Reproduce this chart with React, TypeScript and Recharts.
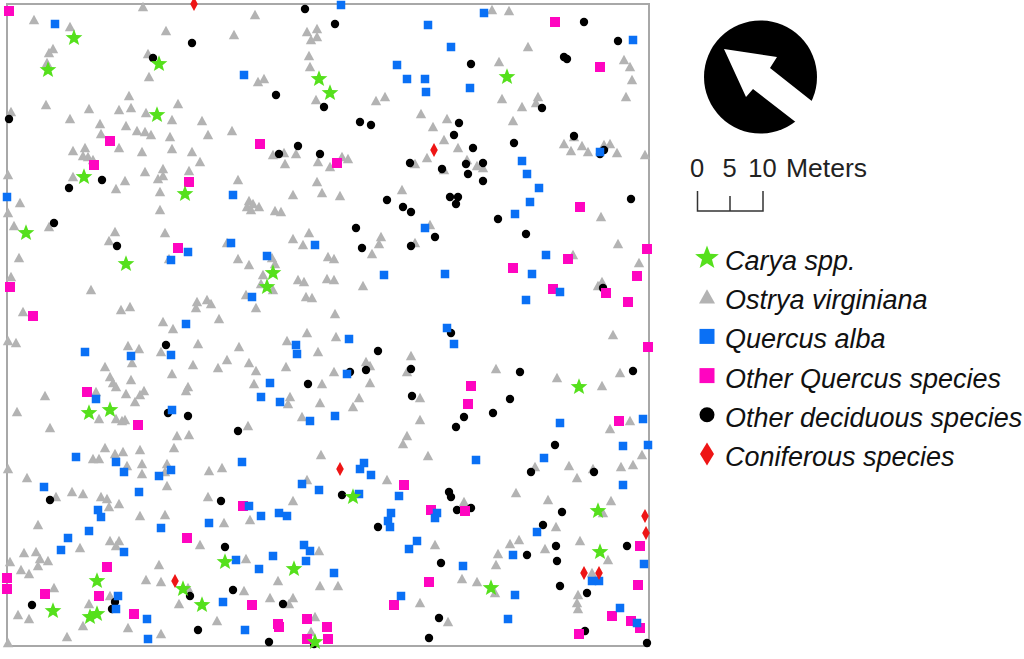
import { ScatterChart, Scatter, XAxis, YAxis, ReferenceArea } from 'recharts'

// tree positions, in map units
const carya = [[74,38],[48,70],[159,64],[157,115],[84,177],[185,194],[319,79],[330,93],[507,77],[26,233],[126,264],[110,410],[89,413],[273,273],[267,287],[579,387],[225,562],[294,569],[353,497],[315,642],[97,581],[183,589],[53,611],[202,605],[97,614],[90,617],[598,511],[600,552],[491,588]]

const ostrya = [[143,7],[34,20],[70,27],[166,31],[53,49],[49,53],[148,54],[47,63],[149,77],[129,96],[178,104],[11,112],[46,105],[89,109],[119,110],[131,108],[146,113],[70,119],[172,120],[202,121],[100,124],[126,126],[137,131],[145,132],[151,135],[101,134],[170,137],[208,135],[73,151],[85,148],[119,148],[142,152],[172,149],[192,152],[83,156],[88,157],[93,160],[200,162],[163,169],[145,172],[189,171],[8,175],[73,177],[163,176],[158,179],[125,181],[116,189],[160,192],[20,203],[8,213],[160,210],
  [255,15],[234,35],[317,29],[307,32],[317,37],[311,40],[309,56],[310,67],[264,79],[258,82],[316,100],[385,97],[376,101],[421,114],[433,127],[232,131],[273,155],[284,153],[296,154],[318,162],[285,164],[342,157],[348,159],[330,167],[415,164],[427,158],[238,180],[317,182],[402,190],[322,193],[293,195],[340,196],[249,201],[247,207],[253,204],[259,207],[251,210],[275,211],[281,212],
  [492,10],[509,11],[528,47],[499,62],[624,60],[630,67],[632,80],[626,97],[502,99],[538,97],[536,103],[522,107],[513,121],[447,119],[444,140],[458,148],[564,144],[574,137],[582,146],[571,151],[588,152],[604,145],[610,144],[617,153],[645,155],[467,160],[477,166],[483,168],[444,170],[601,217],
  [14,226],[49,227],[115,232],[165,233],[109,241],[19,258],[169,259],[11,277],[91,290],[197,302],[207,300],[211,304],[196,308],[130,307],[121,310],[23,312],[163,322],[173,329],[219,319],[8,341],[16,343],[198,344],[128,346],[139,349],[161,352],[132,363],[193,365],[218,368],[105,367],[172,374],[110,377],[131,380],[113,383],[116,387],[188,387],[186,391],[96,392],[126,394],[144,391],[140,395],[135,402],[45,396],[17,412],[99,419],[116,419],[122,421],[125,420],[50,428],[177,436],[189,435],
  [309,233],[293,239],[303,245],[227,243],[238,259],[249,265],[272,258],[275,264],[263,275],[328,257],[334,259],[298,280],[304,282],[327,279],[334,280],[363,286],[261,284],[273,290],[246,295],[306,297],[312,298],[256,308],[335,314],[307,333],[336,337],[287,341],[239,347],[318,352],[227,360],[249,363],[286,367],[256,371],[334,372],[366,362],[370,366],[370,383],[411,356],[407,372],[254,384],[322,384],[290,397],[288,404],[359,398],[320,403],[353,407],[420,398],[302,417],[420,420],[248,426],[407,436],[381,237],[379,244],[372,254],[415,243],[430,225],
  [618,244],[573,255],[639,263],[602,282],[598,286],[613,335],[496,369],[557,378],[620,373],[602,386],[630,421],[610,429],
  [105,448],[115,454],[123,452],[140,450],[93,459],[99,459],[174,448],[142,464],[167,464],[127,466],[142,474],[8,469],[165,472],[209,471],[27,478],[167,486],[72,492],[83,494],[56,497],[101,497],[107,499],[119,504],[109,507],[208,497],[140,516],[165,515],[38,525],[110,541],[119,541],[116,546],[80,548],[200,545],[24,553],[36,552],[40,559],[48,561],[10,562],[38,566],[21,570],[29,574],[159,565],[146,580],[161,582],[54,588],[188,588],[110,596],[89,604],[179,604],[18,615],[29,619],[83,626],[128,628],[67,637],[161,634],[8,643],[217,621],
  [321,455],[403,444],[428,456],[222,468],[307,480],[387,480],[293,501],[250,520],[224,523],[435,545],[319,551],[246,559],[278,581],[244,591],[320,586],[338,586],[270,598],[293,598],[289,604],[420,603],[315,617],[311,632],
  [535,467],[569,466],[593,469],[621,467],[633,465],[642,455],[577,478],[516,493],[548,500],[611,501],[464,502],[603,513],[556,527],[580,541],[519,540],[510,544],[545,549],[498,554],[496,565],[608,560],[592,573],[462,579],[477,582],[495,593],[578,595],[577,603],[578,609],[448,622]]

const quercusAlba = [[55,24],[7,197],[341,5],[428,25],[397,65],[407,79],[425,79],[426,92],[244,75],[233,195],[484,13],[451,47],[633,40],[470,88],[600,152],[522,161],[527,174],[539,188],[530,202],[515,214],
  [188,252],[171,260],[186,324],[85,352],[131,356],[171,355],[96,399],[172,410],[231,243],[315,245],[267,256],[384,275],[252,297],[425,228],[349,339],[296,345],[297,354],[347,374],[270,383],[261,397],[280,402],[335,416],[310,421],
  [546,255],[445,274],[532,274],[560,292],[526,300],[447,328],[454,344],[560,423],[643,419],
  [76,457],[116,462],[124,472],[171,470],[159,476],[44,487],[139,492],[98,510],[101,517],[161,528],[209,523],[89,531],[68,538],[61,550],[124,552],[118,596],[116,609],[147,619],[148,639],
  [242,462],[364,463],[360,469],[371,475],[302,484],[319,490],[359,494],[399,496],[249,506],[261,516],[279,513],[287,516],[391,513],[388,521],[390,527],[417,541],[409,549],[437,513],[435,518],[304,545],[310,551],[306,561],[236,560],[273,556],[259,569],[334,573],[401,596],[223,602],[245,630],
  [476,460],[544,458],[623,446],[648,445],[623,485],[537,532],[513,555],[463,566],[644,564],[592,581],[599,581],[515,595],[508,619],[620,608],[637,623]]

const otherQuercus = [[9,11],[110,141],[94,165],[189,182],[260,144],[337,163],[555,22],[600,67],[580,207],[178,248],[10,287],[33,316],[87,392],[138,425],
  [647,249],[568,259],[513,268],[637,276],[553,289],[606,293],[628,302],[648,347],[471,386],[468,404],[619,421],
  [187,538],[107,567],[7,578],[7,589],[45,594],[99,596],[134,614],
  [404,485],[243,506],[431,510],[429,582],[394,605],[252,605],[307,619],[278,624],[279,627],[327,627],[307,639],[328,639],
  [465,511],[640,546],[638,585],[612,616],[631,621],[640,628],[579,634]]

const otherDeciduous = [[192,43],[153,58],[9,119],[102,180],[69,188],[54,223],[305,9],[335,24],[276,95],[324,107],[360,122],[371,125],[298,146],[279,154],[320,154],[410,163],[387,200],[403,207],[411,212],
  [584,22],[618,41],[471,64],[564,57],[567,59],[542,108],[459,123],[454,135],[473,148],[514,143],[574,136],[604,150],[600,154],[466,164],[483,163],[442,169],[468,174],[483,181],[450,197],[458,197],[456,204],[498,219],[631,199],
  [117,246],[166,345],[168,413],[188,416],[356,228],[362,248],[411,246],[435,237],[378,351],[350,372],[366,370],[411,369],[308,384],[412,396],[238,431],
  [526,234],[603,288],[451,333],[520,372],[633,371],[510,399],[493,413],[464,417],[456,427],
  [50,500],[221,501],[115,602],[32,605],[112,609],[190,596],[198,630],
  [342,495],[378,527],[225,547],[233,590],[283,604],[269,642],[314,644],
  [555,445],[531,472],[594,472],[449,492],[451,497],[457,510],[471,508],[562,512],[543,525],[556,546],[627,546],[527,555],[557,561],[441,563],[560,586],[587,593],[439,618],[585,631],[429,638],[647,643]]

const coniferous = [[194,4],[434,150],[175,581],[340,469],[645,516],[646,533],[584,573],[599,573]]

const legendLabels = ['Carya spp.', 'Ostrya virginiana', 'Quercus alba', 'Other Quercus species', 'Other deciduous species', 'Coniferous species']
const scaleLabels = ['0', '5', '10']

const GREEN = '#55e01c'
const GREY = '#b3b3b3'
const BLUE = '#0a70f5'
const PINK = '#ff05c0'
const BLACK = '#000'
const RED = '#ee1515'

const rows = (pts: number[][]) => pts.map(([x, y]) => ({ x, y }))

function starPath(cx: number, cy: number, r: number) {
  let d = ''
  for (let i = 0; i < 10; i++) {
    const rad = i % 2 === 0 ? r : r * 0.42
    const a = -Math.PI / 2 + (i * Math.PI) / 5
    d += `${i ? 'L' : 'M'}${cx + rad * Math.cos(a)},${cy + rad * Math.sin(a)}`
  }
  return d + 'Z'
}

const Star = ({ cx, cy, r = 8.8 }: any) => <path d={starPath(cx, cy, r)} fill={GREEN} />
const Tri = ({ cx, cy, r = 5.2 }: any) => (
  <path d={`M${cx},${cy - r}L${cx + r},${cy + r * 0.8}L${cx - r},${cy + r * 0.8}Z`} fill={GREY} />
)
const Sq = ({ cx, cy, color, s = 8 }: any) => <rect x={cx - s / 2} y={cy - s / 2} width={s} height={s} fill={color} />
const Dot = ({ cx, cy, r = 4.2 }: any) => <circle cx={cx} cy={cy} r={r} fill={BLACK} />
const Dia = ({ cx, cy, w = 3.8, h = 7 }: any) => (
  <path d={`M${cx},${cy - h}L${cx + w},${cy}L${cx},${cy + h}L${cx - w},${cy}Z`} fill={RED} />
)

const legendIcons = [
  (cx: number, cy: number) => <Star cx={cx} cy={cy} r={12.5} />,
  (cx: number, cy: number) => <Tri cx={cx} cy={cy} r={8} />,
  (cx: number, cy: number) => <Sq cx={cx} cy={cy} color={BLUE} s={15} />,
  (cx: number, cy: number) => <Sq cx={cx} cy={cy} color={PINK} s={15} />,
  (cx: number, cy: number) => <Dot cx={cx} cy={cy} r={7.5} />,
  (cx: number, cy: number) => <Dia cx={cx} cy={cy} w={7} h={11.5} />,
]

function Overlay() {
  const font = '"Liberation Sans", Arial, sans-serif'
  return (
    <svg width={1024} height={659} style={{ position: 'absolute', left: 0, top: 0 }} fontFamily={font}>
      <circle cx={760.5} cy={77} r={56.5} fill="#000" />
      <path d="M724,49L777,57L770,68L832,117L815,137L753,89L746,97Z" fill="#fff" />
      {scaleLabels.map((t, i) => (
        <text key={t} x={697 + i * 32.7} y={177} fontSize={25.5} textAnchor="middle" fill="#222">{t}</text>
      ))}
      <text x={786} y={177} fontSize={26.5} fill="#222">Meters</text>
      <path d="M697.5,191V211H763V191M730,196V211" fill="none" stroke="#333" strokeWidth={1.5} />
      {legendLabels.map((t, i) => {
        const base = 270 + i * 39.2
        return (
          <g key={t}>
            {legendIcons[i](707, base - 12)}
            <text x={725} y={base} fontSize={27} fontStyle="italic" fill="#111">{t}</text>
          </g>
        )
      })}
    </svg>
  )
}

export default function App() {
  return (
    <div style={{ position: 'absolute', left: 0, top: 0, width: 1024, height: 659, background: '#fff' }}>
      <ScatterChart width={1024} height={659} margin={{ top: 4, right: 375, bottom: 13, left: 7 }}>
        <XAxis type="number" dataKey="x" domain={[7, 649]} hide />
        <YAxis type="number" dataKey="y" domain={[4, 646]} reversed hide />
        <ReferenceArea x1={7} x2={649} y1={4} y2={646} fill="none" stroke="#a8a8a8" strokeWidth={2} ifOverflow="visible" />
        <Scatter data={rows(ostrya)} shape={<Tri />} isAnimationActive={false} />
        <Scatter data={rows(otherDeciduous)} shape={<Dot />} isAnimationActive={false} />
        <Scatter data={rows(otherQuercus)} shape={<Sq color={PINK} s={10} />} isAnimationActive={false} />
        <Scatter data={rows(quercusAlba)} shape={<Sq color={BLUE} s={8.5} />} isAnimationActive={false} />
        <Scatter data={rows(carya)} shape={<Star />} isAnimationActive={false} />
        <Scatter data={rows(coniferous)} shape={<Dia />} isAnimationActive={false} />
      </ScatterChart>
      <Overlay />
    </div>
  )
}
